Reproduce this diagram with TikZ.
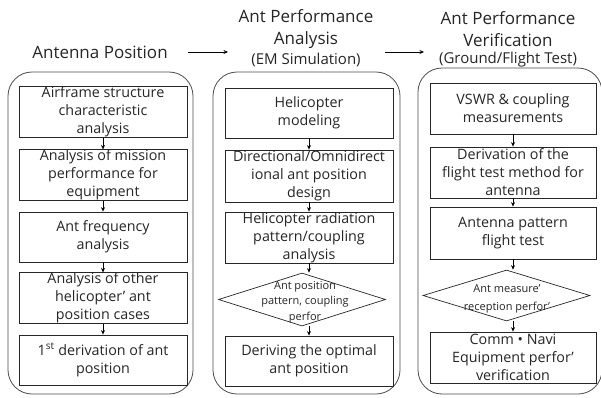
\documentclass[tikz,border=0pt]{standalone}
\usepackage{fontspec}
\setmainfont{Open Sans}
\usetikzlibrary{arrows.meta,shapes.geometric}
\begin{document}
\begin{tikzpicture}[x=1pt,y=-1pt,
  every node/.style={font=\fontsize{14.3}{18}\selectfont, text=black!85},
  stepbox/.style={draw=black!85, line width=0.8pt, minimum height=50pt, inner sep=0pt, align=center},
  container/.style={draw=black!70, line width=0.8pt, rounded corners=24pt},
  decision/.style={draw=black!85, line width=0.7pt, shape=diamond, inner sep=0pt},
  dectext/.style={font=\fontsize{11}{15.5}\selectfont, align=center, inner sep=0pt},
  flow/.style={-{Stealth[length=4.5pt,width=4pt]}, line width=0.7pt, black},
  title/.style={font=\fontsize{17}{22}\selectfont, align=center, inner sep=0pt},
  subtitle/.style={font=\fontsize{15}{18}\selectfont, inner sep=0pt},
]
\useasboundingbox (0,0) rectangle (601,397);
\fill[white] (0,0) rectangle (601,397);

% containers
\draw[container] (8,72) rectangle (193,394);
\draw[container] (213,72) rectangle (400,394);
\draw[container] (418,68) rectangle (602,394);

% titles
\node[title] (t1) at (100,52) {Antenna Position};
\node[title] (t2) at (306,29) {Ant Performance\\Analysis};
\node[subtitle] (s2) at (306,60) {(EM Simulation)};
\node[title] (t3) at (508,29) {Ant Performance\\Verification};
\node[subtitle] (s3) at (508,60) {(Ground/Flight Test)};
\coordinate (h1s) at (188,52);
\coordinate (h1e) at (228,52);
\coordinate (h2s) at (385,52);
\coordinate (h2e) at (424,52);
\draw[flow] (h1s) -- (h1e);
\draw[flow] (h2s) -- (h2e);

% column 1
\node[stepbox, minimum width=168pt] (a1) at (103,112) {Airframe structure\\characteristic\\analysis};
\node[stepbox, minimum width=168pt] (a2) at (103,175) {Analysis of mission\\performance for\\equipment};
\node[stepbox, minimum width=168pt] (a3) at (103,237) {Ant frequency\\analysis};
\node[stepbox, minimum width=168pt] (a4) at (103,298) {Analysis of other\\helicopter’ ant\\position cases};
\node[stepbox, minimum width=168pt] (a5) at (103,360) {1\textsuperscript{st} derivation of ant\\position};
\draw[flow] (a1) -- (a2);
\draw[flow] (a2) -- (a3);
\draw[flow] (a3) -- (a4);
\draw[flow] (a4) -- (a5);

% column 2
\node[stepbox, minimum width=168pt] (b1) at (309,113) {Helicopter\\modeling};
\node[stepbox, minimum width=168pt, minimum height=52pt] (b2) at (309,176) {Directional/Omnidirect\\ional ant position\\design};
\node[stepbox, minimum width=168pt, minimum height=51pt] (b3) at (309,237.5) {Helicopter radiation\\pattern/coupling\\analysis};
\node[decision, minimum width=167pt, minimum height=53pt] (b4) at (302,299.5) {};
\node[dectext] (b4t) at (305,302) {Ant position\\pattern, coupling\\perfor};
\node[stepbox, minimum width=168pt] (b5) at (309,361) {Deriving the optimal\\ant position};
\draw[flow] (b1) -- (b2);
\draw[flow] (b2) -- (b3);
\draw[flow] (b3.south) -- (b3.south |- b4.north);
\draw[flow] (b3.south |- b4.south) -- (b5.north);

% column 3
\node[stepbox, minimum width=166pt, minimum height=51pt] (c1) at (513,108.5) {VSWR \& coupling\\measurements};
\node[stepbox, minimum width=166pt, minimum height=51pt] (c2) at (513,172.5) {Derivation of the\\flight test method for\\antenna};
\node[stepbox, minimum width=166pt, minimum height=52pt] (c3) at (513,233) {Antenna pattern\\flight test};
\node[decision, minimum width=167pt, minimum height=51pt] (c4) at (506.5,295.5) {};
\node[dectext, font=\fontsize{11}{18}\selectfont] (c4t) at (507,299) {Ant measure’\\reception perfor’};
\node[stepbox, minimum width=166pt, minimum height=51pt] (c5) at (513,357.5) {Comm • Navi\\Equipment perfor’\\verification};
\draw[flow] (c1) -- (c2);
\draw[flow] (c2) -- (c3);
\draw[flow] (c3.south) -- (c3.south |- c4.north);
\draw[flow] (c3.south |- c4.south) -- (c5.north);
\end{tikzpicture}
\end{document}
